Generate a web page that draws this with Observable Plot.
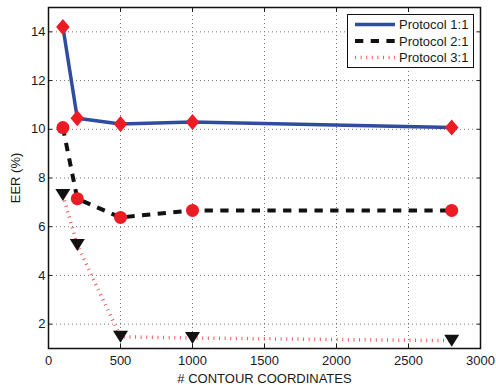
<!DOCTYPE html>
<html><head><meta charset="utf-8">
<script src="https://cdn.jsdelivr.net/npm/d3@7"></script>
<script src="https://cdn.jsdelivr.net/npm/@observablehq/plot@0.6"></script>
<style>
body{margin:0;background:#fff;}
#wrap{position:relative;width:496px;height:385px;font-family:Arial,"Liberation Sans",Helvetica,sans-serif;}
#legend{position:absolute;left:347px;top:14px;width:127px;height:54px;border:1px solid #111;background:#fff;box-sizing:border-box;}
</style></head><body><div id="wrap"></div>
<script>
const contourCounts = [100, 200, 500, 1000, 2800];
const protocol11 = [14.2, 10.45, 10.22, 10.3, 10.07];
const protocol21 = [10.07, 7.15, 6.38, 6.67, 6.67];
const protocol31 = [7.3, 5.25, 1.48, 1.43, 1.32];
const seriesNames = ["Protocol 1:1", "Protocol 2:1", "Protocol 3:1"];
const xTicks = [0, 500, 1000, 1500, 2000, 2500, 3000];
const yTicks = [2, 4, 6, 8, 10, 12, 14];
const xLabel = "# CONTOUR COORDINATES";
const yLabel = "EER (%)";

const d11 = contourCounts.map((x, i) => ({x, y: protocol11[i]}));
const d21 = contourCounts.map((x, i) => ({x, y: protocol21[i]}));
const d31 = contourCounts.map((x, i) => ({x, y: protocol31[i]}));

const blue = "#2f4c9f", red = "#ec1c24", pink = "#ef5a5a", ink = "#1a1a1a";
const font = 'Arial,"Liberation Sans",Helvetica,sans-serif';
const diamond = {draw(ctx) { const w = 6.8, h = 8; ctx.moveTo(0, -h); ctx.lineTo(w, 0); ctx.lineTo(0, h); ctx.lineTo(-w, 0); ctx.closePath(); }};
const triDown = {draw(ctx) { const w = 7.5, h = 12; ctx.moveTo(-w, -h/2); ctx.lineTo(w, -h/2); ctx.lineTo(0, h/2); ctx.closePath(); }};
const fmt = d => String(d);

const chart = Plot.plot({
  width: 496, height: 385,
  marginLeft: 48, marginRight: 16, marginTop: 7, marginBottom: 37,
  style: {fontFamily: font, fontSize: "13px", color: ink, background: "#fff"},
  x: {domain: [0, 3000]},
  y: {domain: [1, 15]},
  marks: [
    Plot.gridX(xTicks, {stroke: "#777", strokeOpacity: 1, strokeDasharray: "1,3"}),
    Plot.gridY(yTicks, {stroke: "#777", strokeOpacity: 1, strokeDasharray: "1,3"}),
    Plot.axisX({ticks: xTicks, tickFormat: fmt, tickSize: 0, tickPadding: 7, fill: ink, label: xLabel, labelAnchor: "center", labelArrow: "none", labelOffset: 34}),
    Plot.axisX({ticks: xTicks, tickSize: -4, stroke: ink, text: null, label: null}),
    Plot.axisX({ticks: xTicks, anchor: "top", tickSize: -4, stroke: ink, text: null, label: null}),
    Plot.axisY({ticks: yTicks, tickFormat: fmt, tickSize: 0, tickPadding: 3, fill: ink, label: yLabel, labelAnchor: "center", labelArrow: "none", labelOffset: 38}),
    Plot.axisY({ticks: yTicks, tickSize: -4, stroke: ink, text: null, label: null}),
    Plot.axisY({ticks: yTicks, anchor: "right", tickSize: -4, stroke: ink, text: null, label: null}),
    Plot.line(d11, {x: "x", y: "y", stroke: blue, strokeWidth: 3.5}),
    Plot.line(d21, {x: "x", y: "y", stroke: "#111", strokeWidth: 4, strokeDasharray: "8.3,7.4", strokeLinecap: "butt"}),
    Plot.line(d31, {x: "x", y: "y", stroke: pink, strokeWidth: 3.5, strokeDasharray: "1,4.6", strokeLinecap: "butt"}),
    Plot.dot(d11, {x: "x", y: "y", symbol: diamond, fill: red, stroke: "none"}),
    Plot.dot(d21, {x: "x", y: "y", r: 6.5, fill: red, stroke: "none"}),
    Plot.dot(d31, {x: "x", y: "y", symbol: triDown, fill: "#111", stroke: "none"}),
    Plot.frame({stroke: "#111", strokeWidth: 1.5})
  ]
});
const wrap = document.getElementById("wrap");
wrap.appendChild(chart);

const legend = document.createElement("div");
legend.id = "legend";
const styles = [
  {stroke: blue, width: 3.5, dash: null},
  {stroke: "#111", width: 4, dash: "8.3,7.4"},
  {stroke: pink, width: 3.5, dash: "1,4.6"}
];
const ns = "http://www.w3.org/2000/svg";
const svg = document.createElementNS(ns, "svg");
svg.setAttribute("width", 127); svg.setAttribute("height", 54);
svg.style.position = "absolute"; svg.style.left = "-1px"; svg.style.top = "-1px";
seriesNames.forEach((name, i) => {
  const yy = 10.5 + i * 16.5;
  const ln = document.createElementNS(ns, "line");
  ln.setAttribute("x1", 8); ln.setAttribute("x2", 48);
  ln.setAttribute("y1", yy); ln.setAttribute("y2", yy);
  ln.setAttribute("stroke", styles[i].stroke);
  ln.setAttribute("stroke-width", styles[i].width);
  if (styles[i].dash) ln.setAttribute("stroke-dasharray", styles[i].dash);
  svg.appendChild(ln);
  const t = document.createElementNS(ns, "text");
  t.setAttribute("x", 52); t.setAttribute("y", yy);
  t.setAttribute("dy", "0.35em");
  t.setAttribute("font-size", "13");
  t.setAttribute("fill", ink);
  t.setAttribute("font-family", font);
  t.textContent = name;
  svg.appendChild(t);
});
legend.appendChild(svg);
wrap.appendChild(legend);
</script>
</body></html>
